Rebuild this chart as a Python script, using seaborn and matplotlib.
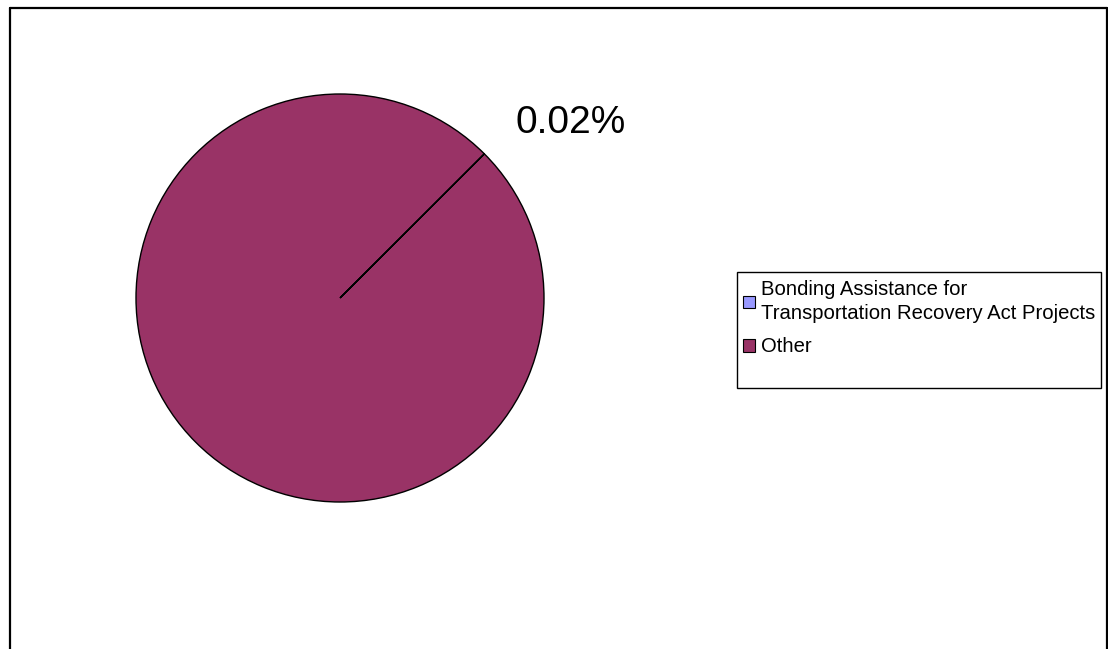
import matplotlib
matplotlib.use('Agg')
import matplotlib.pyplot as plt
import seaborn as sns
from matplotlib.patches import Rectangle
from matplotlib.lines import Line2D

# data
categories = ['Bonding Assistance for\nTransportation Recovery Act Projects', 'Other']
shares = [0.02, 99.98]
slice_labels = ['0.02%', '']
colors = ['#9999FF', '#993366']

sns.set_style('white')
plt.rcParams['font.family'] = ['Liberation Sans', 'DejaVu Sans']
plt.rcParams['text.color'] = 'black'

W, H = 1108, 649
fig = plt.figure(figsize=(W / 100, H / 100), dpi=100)

# pie axes placed so the circle sits where the reference has it
cx, cy, r = 340, 298, 204
lim = 1.01
ax = fig.add_axes([(cx - r * lim) / W, (H - cy - r * lim) / H, 2 * r * lim / W, 2 * r * lim / H])
wedges, _ = ax.pie(shares, colors=colors, startangle=45, counterclock=False,
                   wedgeprops=dict(edgecolor='black', linewidth=1))
ax.set_xlim(-lim, lim)
ax.set_ylim(-lim, lim)
ax.axis('off')

# data label for the small slice (Excel style, outside the pie)
ax.text(1.13, 0.86, slice_labels[0], fontsize=28, ha='center', va='center', color='black')

# outer chart frame (no bottom edge visible in the reference)
for xs, ys in [([10, 10], [649, 8]), ([10, 1107], [8, 8]), ([1107, 1107], [8, 649])]:
    fig.add_artist(Line2D([x / W for x in xs], [1 - y / H for y in ys],
                          transform=fig.transFigure, color='black', lw=1.6))

# legend
leg = fig.legend(wedges, categories, loc='upper left', bbox_to_anchor=(743 / W, 1 - 280 / H),
                 frameon=False, fontsize=14.6, handlelength=0.6, handleheight=0.6,
                 handletextpad=0.3, labelspacing=0.7, borderaxespad=0, borderpad=0,
                 labelcolor='black')
for t in leg.get_texts():
    t.set_linespacing(1.35)
for h in leg.legend_handles:
    h.set_edgecolor('black')
    h.set_linewidth(0.8)
fig.add_artist(Rectangle((737 / W, 1 - 388 / H), (1101 - 737) / W, (388 - 272) / H,
                         transform=fig.transFigure, fill=False, edgecolor='black', lw=1))

fig.savefig('out.png', dpi=100)
